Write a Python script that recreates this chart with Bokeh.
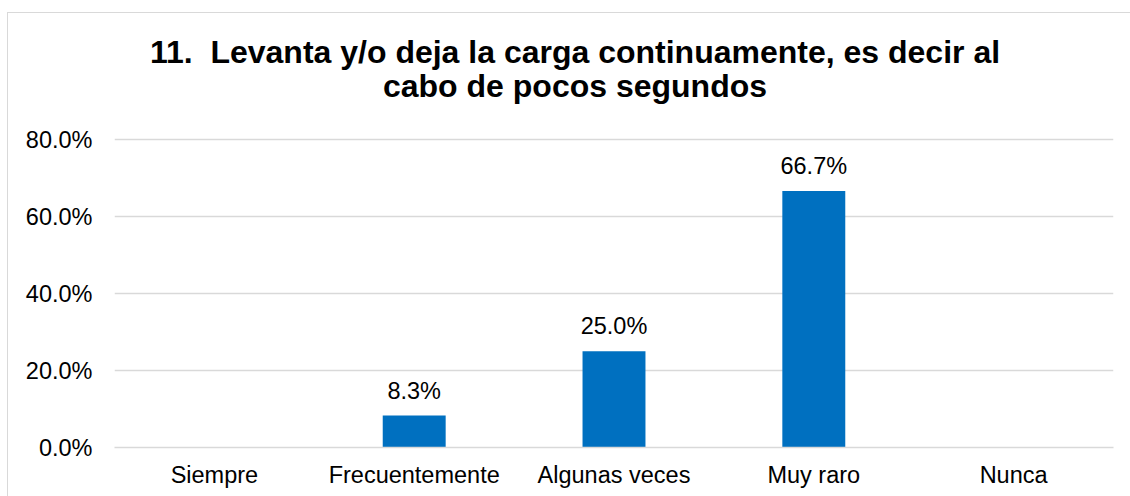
from bokeh.plotting import figure
from bokeh.models import ColumnDataSource, FixedTicker, LabelSet, NumeralTickFormatter
from bokeh.core.properties import value
from bokeh.embed import file_html
from bokeh.resources import INLINE

# ---- data ----
categories = ["Siempre", "Frecuentemente", "Algunas veces", "Muy raro", "Nunca"]
values = [0.0, 0.083, 0.25, 0.667, 0.0]
value_labels = ["", "8.3%", "25.0%", "66.7%", ""]
y_ticks = [0.0, 0.2, 0.4, 0.6, 0.8]
title_lines = ["11.\u00a0 Levanta y/o deja la carga continuamente, es decir al",
               "cabo de pocos segundos"]

FONT = "Liberation Sans"
BAR = "#0070C0"
GRID = "#d9d9d9"
FS = "23.5px"

# y range extended above 80% so the two-line title can sit inside the frame
p = figure(x_range=categories, y_range=(0, 1.1153), width=1122, height=483,
           output_backend="svg", toolbar_location=None,
           min_border_left=106, min_border_right=18,
           min_border_top=5, min_border_bottom=50)
p.styles = {"border-left": f"1px solid {GRID}", "border-top": f"1px solid {GRID}",
            "margin-top": "12px", "margin-left": "7px", "box-sizing": "content-box"}
p.x_range.range_padding = 0
p.outline_line_color = None
p.background_fill_color = "white"
p.border_fill_color = "white"

src = ColumnDataSource(dict(cat=categories, val=values))
p.vbar(x="cat", top="val", width=0.315, source=src, color=BAR, line_color=None)

lab_cats = [c for c, v in zip(categories, values) if v > 0]
lab_vals = [v for v in values if v > 0]
lab_txt = [t for t, v in zip(value_labels, values) if v > 0]
lsrc = ColumnDataSource(dict(cat=lab_cats, val=lab_vals, txt=lab_txt))
p.add_layout(LabelSet(x="cat", y="val", text="txt", source=lsrc, y_offset=17,
                      text_align="center", text_baseline="alphabetic",
                      text_font=value(FONT), text_font_size=FS, text_color="black"))

# axes
p.yaxis.ticker = FixedTicker(ticks=y_ticks)
p.yaxis.formatter = NumeralTickFormatter(format="0.0%")
p.yaxis.axis_line_color = None
p.yaxis.major_tick_line_color = None
p.yaxis.minor_tick_line_color = None
p.yaxis.major_tick_out = 0
p.yaxis.major_label_standoff = 22
p.yaxis.major_label_text_font = FONT
p.yaxis.major_label_text_font_size = FS
p.yaxis.major_label_text_color = "black"

p.xaxis.axis_line_color = GRID
p.xaxis.axis_line_width = 1.5
p.xaxis.major_tick_line_color = None
p.xaxis.major_tick_out = 0
p.xaxis.major_label_standoff = 14
p.xaxis.major_label_text_font = FONT
p.xaxis.major_label_text_font_size = FS
p.xaxis.major_label_text_color = "black"

p.xgrid.grid_line_color = None
p.ygrid.grid_line_color = GRID
p.ygrid.grid_line_width = 1.5

# title (two centred lines)
tsrc = ColumnDataSource(dict(x=[categories[2], categories[2]], y=[1.0293, 0.9407],
                             txt=title_lines))
p.text(x="x", y="y", text="txt", source=tsrc, x_offset=-39,
       text_align="center", text_baseline="alphabetic",
       text_font=value(FONT), text_font_size="32px", text_font_style="bold",
       text_color="black")

open("out.html", "w").write(file_html(p, INLINE))
